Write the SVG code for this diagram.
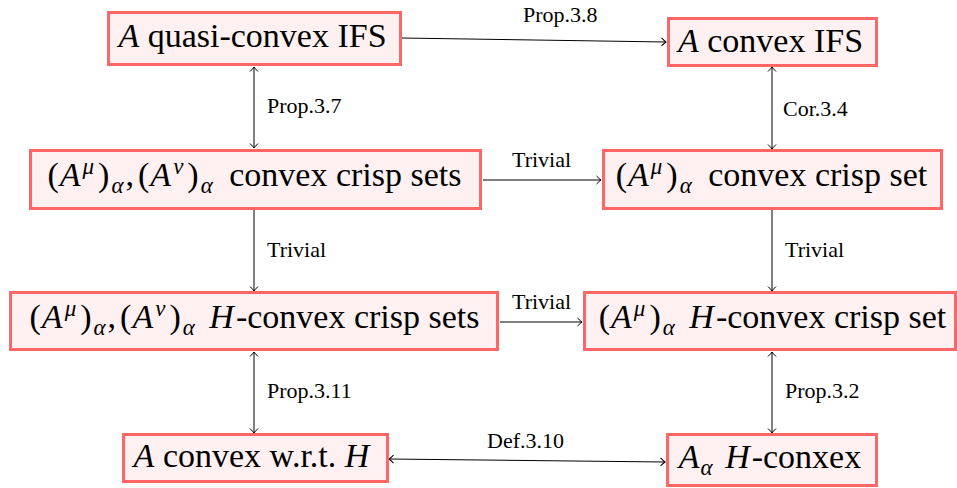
<svg xmlns="http://www.w3.org/2000/svg" width="957" height="488" viewBox="0 0 957 488">
<style>
.box{fill:#FFF1F1;stroke:#FF6666;stroke-width:3}
.it{font-style:italic}
.sb{font-size:23px}
.c{fill:none;stroke:#000;stroke-width:1}
</style>
<defs>
<marker id="arr" viewBox="-6 -5 8 10" refX="0" refY="0" markerWidth="8" markerHeight="10" markerUnits="userSpaceOnUse" orient="auto-start-reverse">
<path d="M -4.5 -4 Q -1.5 -1 0 0 Q -1.5 1 -4.5 4" fill="none" stroke="#000" stroke-width="1"/>
</marker>
</defs>
<g id="connectors">
<line class="c" x1="402" y1="38" x2="666" y2="42" marker-end="url(#arr)"/>
<text font-family="Liberation Serif" font-size="22" x="523" y="22">Prop.3.8</text>
<line class="c" x1="254" y1="67" x2="254" y2="148" marker-start="url(#arr)" marker-end="url(#arr)"/>
<text font-family="Liberation Serif" font-size="22" x="267" y="113">Prop.3.7</text>
<line class="c" x1="772" y1="67" x2="772" y2="149" marker-start="url(#arr)" marker-end="url(#arr)"/>
<text font-family="Liberation Serif" font-size="22" x="783" y="116">Cor.3.4</text>
<line class="c" x1="483" y1="180" x2="601" y2="180" marker-end="url(#arr)"/>
<text font-family="Liberation Serif" font-size="22" x="512" y="167">Trivial</text>
<line class="c" x1="254" y1="210" x2="254" y2="291" marker-end="url(#arr)"/>
<text font-family="Liberation Serif" font-size="22" x="267" y="257">Trivial</text>
<line class="c" x1="772" y1="210" x2="772" y2="291" marker-end="url(#arr)"/>
<text font-family="Liberation Serif" font-size="22" x="785" y="257">Trivial</text>
<line class="c" x1="500" y1="322" x2="582" y2="322" marker-end="url(#arr)"/>
<text font-family="Liberation Serif" font-size="22" x="512" y="309">Trivial</text>
<line class="c" x1="254" y1="352" x2="254" y2="433" marker-start="url(#arr)" marker-end="url(#arr)"/>
<text font-family="Liberation Serif" font-size="22" x="267" y="398">Prop.3.11</text>
<line class="c" x1="772" y1="352" x2="772" y2="433" marker-start="url(#arr)" marker-end="url(#arr)"/>
<text font-family="Liberation Serif" font-size="22" x="785" y="398">Prop.3.2</text>
<line class="c" x1="389" y1="459" x2="665" y2="462" marker-start="url(#arr)" marker-end="url(#arr)"/>
<text font-family="Liberation Serif" font-size="22" x="487" y="448">Def.3.10</text>
</g>
<g id="n1">
<rect class="box" x="108.5" y="12.5" width="292" height="52"/>
<text font-family="Liberation Serif" style="font-family:'Liberation Serif',serif !important;font-size:34px;fill:#000;text-anchor:middle" x="252.5" y="47"><tspan class="it">A</tspan> quasi-convex IFS</text>
</g>
<g id="n2">
<rect class="box" x="668.5" y="18.5" width="208" height="47"/>
<text font-family="Liberation Serif" style="font-family:'Liberation Serif',serif !important;font-size:34px;fill:#000;text-anchor:middle" x="770.5" y="52"><tspan class="it">A</tspan> convex IFS</text>
</g>
<g id="n3">
<rect class="box" x="30.5" y="150.5" width="450" height="58"/>
<text font-family="Liberation Serif" style="font-family:'Liberation Serif',serif !important;font-size:34px;fill:#000;text-anchor:middle" x="254.5" y="186">(<tspan class="it" dx="1">A</tspan><tspan class="sb it" dx="2" dy="-12">μ</tspan><tspan dx="4" dy="12">)</tspan><tspan class="sb it" dx="2" dy="7">α</tspan><tspan dx="2" dy="-7">,</tspan><tspan dx="4">(</tspan><tspan class="it" dx="1">A</tspan><tspan class="sb it" dx="2" dy="-12">ν</tspan><tspan dx="4" dy="12">)</tspan><tspan class="sb it" dx="2" dy="7">α</tspan><tspan dx="8" dy="-7"> convex crisp sets</tspan></text>
</g>
<g id="n4">
<rect class="box" x="603.5" y="150.5" width="338" height="58"/>
<text font-family="Liberation Serif" style="font-family:'Liberation Serif',serif !important;font-size:34px;fill:#000;text-anchor:middle" x="771.5" y="186">(<tspan class="it" dx="1">A</tspan><tspan class="sb it" dx="2" dy="-12">μ</tspan><tspan dx="4" dy="12">)</tspan><tspan class="sb it" dx="2" dy="7">α</tspan><tspan dx="8" dy="-7"> convex crisp set</tspan></text>
</g>
<g id="n5">
<rect class="box" x="10.5" y="292.5" width="487" height="57"/>
<text font-family="Liberation Serif" style="font-family:'Liberation Serif',serif !important;font-size:34px;fill:#000;text-anchor:middle" x="254.5" y="328">(<tspan class="it" dx="1">A</tspan><tspan class="sb it" dx="2" dy="-12">μ</tspan><tspan dx="4" dy="12">)</tspan><tspan class="sb it" dx="2" dy="7">α</tspan><tspan dx="2" dy="-7">,</tspan><tspan dx="4">(</tspan><tspan class="it" dx="1">A</tspan><tspan class="sb it" dx="2" dy="-12">ν</tspan><tspan dx="4" dy="12">)</tspan><tspan class="sb it" dx="2" dy="7">α</tspan><tspan dx="6" dy="-7"> </tspan><tspan class="it">H</tspan><tspan dx="2">-convex crisp sets</tspan></text>
</g>
<g id="n6">
<rect class="box" x="584.5" y="292.5" width="371" height="57"/>
<text font-family="Liberation Serif" style="font-family:'Liberation Serif',serif !important;font-size:34px;fill:#000;text-anchor:middle" x="772.5" y="328">(<tspan class="it" dx="1">A</tspan><tspan class="sb it" dx="2" dy="-12">μ</tspan><tspan dx="4" dy="12">)</tspan><tspan class="sb it" dx="2" dy="7">α</tspan><tspan dx="6" dy="-7"> </tspan><tspan class="it">H</tspan><tspan dx="2">-convex crisp set</tspan></text>
</g>
<g id="n7">
<rect class="box" x="123.5" y="434.5" width="264" height="47"/>
<text font-family="Liberation Serif" style="font-family:'Liberation Serif',serif !important;font-size:34px;fill:#000;text-anchor:middle" x="251.5" y="467"><tspan class="it">A</tspan> convex w.r.t. <tspan class="it">H</tspan></text>
</g>
<g id="n8">
<rect class="box" x="667.5" y="434.5" width="209" height="51"/>
<text font-family="Liberation Serif" style="font-family:'Liberation Serif',serif !important;font-size:34px;fill:#000;text-anchor:middle" x="770" y="468"><tspan class="it">A</tspan><tspan class="sb it" dx="1" dy="7">α</tspan><tspan dx="4" dy="-7"> </tspan><tspan class="it">H</tspan><tspan dx="2">-conxex</tspan></text>
</g>
</svg>
